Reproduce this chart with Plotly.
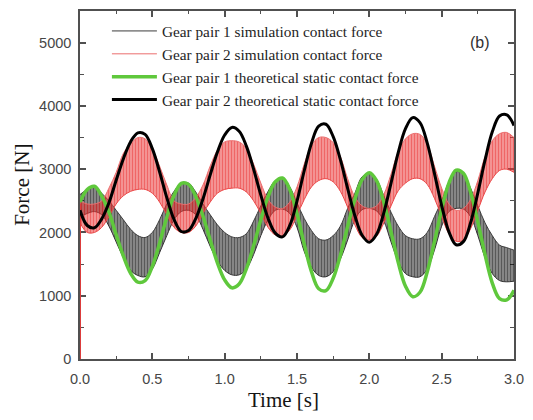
import plotly.graph_objects as go

# time grid (s) and theoretical static contact forces (N)
time_s = [round(i * 0.05, 2) for i in range(61)]

gear2_theory = [2350, 2110, 2075, 2215, 2470, 2825, 3165, 3435, 3575, 3550,
                3325, 2960, 2550, 2205, 2015, 2030, 2220, 2530, 2910, 3270,
                3540, 3660, 3600, 3365, 3000, 2590, 2225, 1990, 1930, 2110,
                2495, 2975, 3410, 3680, 3710, 3515, 3150, 2695, 2265, 1955,
                1845, 1970, 2310, 2780, 3265, 3640, 3815, 3735, 3415, 2935,
                2425, 2010, 1805, 1855, 2155, 2625, 3145, 3590, 3840, 3860,
                3690]

gear1_theory = [2480, 2680, 2730, 2575, 2320, 1965, 1625, 1355, 1215, 1240,
                1465, 1830, 2240, 2585, 2775, 2760, 2570, 2260, 1880, 1520,
                1250, 1125, 1185, 1425, 1790, 2200, 2565, 2800, 2860, 2680,
                2295, 1815, 1380, 1110, 1080, 1275, 1640, 2095, 2525, 2835,
                2945, 2820, 2480, 2010, 1525, 1150, 985, 1055, 1375, 1855,
                2365, 2780, 2985, 2935, 2635, 2165, 1645, 1200, 955, 935,
                1085]

# simulated contact force: envelope of the oscillating signal (N)
gear1_sim_low = [2250, 2300, 2330, 2280, 2100, 1850, 1600, 1400, 1320, 1300,
                 1420, 1680, 1950, 2200, 2330, 2350, 2280, 2050, 1780, 1550,
                 1400, 1330, 1330, 1420, 1650, 1950, 2200, 2350, 2370, 2300,
                 2080, 1700, 1450, 1320, 1300, 1380, 1580, 1880, 2200, 2360,
                 2380, 2340, 2180, 1850, 1540, 1350, 1300, 1300, 1420, 1720,
                 2100, 2330, 2380, 2370, 2250, 1950, 1600, 1350, 1240, 1220,
                 1230]
gear1_sim_high = [2600, 2680, 2730, 2620, 2500, 2350, 2200, 2050, 1950, 1920,
                  2000, 2200, 2450, 2650, 2780, 2780, 2640, 2450, 2280, 2120,
                  2000, 1930, 1920, 1980, 2180, 2420, 2650, 2820, 2860, 2720,
                  2470, 2220, 2030, 1900, 1880, 1950, 2100, 2380, 2620, 2880,
                  2930, 2840, 2580, 2320, 2100, 1950, 1900, 1900, 2000, 2250,
                  2500, 2800, 2960, 2920, 2700, 2420, 2150, 1950, 1800, 1760,
                  1720]

gear2_sim_low = [2150, 2000, 2000, 2080, 2250, 2450, 2580, 2650, 2680, 2680,
                 2620, 2480, 2280, 2080, 2000, 2000, 2100, 2300, 2480, 2620,
                 2680, 2700, 2700, 2640, 2500, 2300, 2080, 1960, 1950, 2040,
                 2270, 2520, 2720, 2820, 2850, 2800, 2650, 2400, 2120, 1920,
                 1880, 1940, 2150, 2420, 2660, 2780, 2850, 2850, 2760, 2540,
                 2250, 1980, 1860, 1880, 2060, 2350, 2640, 2850, 2980, 3000,
                 2950]
gear2_sim_high = [2500, 2450, 2450, 2500, 2700, 2950, 3250, 3400, 3500, 3480,
                  3320, 3050, 2750, 2500, 2450, 2450, 2550, 2750, 3050, 3300,
                  3430, 3450, 3430, 3330, 3080, 2780, 2520, 2400, 2380, 2480,
                  2720, 3080, 3380, 3500, 3500, 3420, 3200, 2850, 2560, 2420,
                  2380, 2420, 2600, 2920, 3280, 3480, 3560, 3550, 3400, 3050,
                  2700, 2450, 2350, 2380, 2520, 2820, 3200, 3450, 3560, 3580,
                  3500]

# start-up transient of the simulation (N)
startup_t = [0.0, 0.0]
startup_f = [0, 2450]

x_ticks = [0.0, 0.5, 1.0, 1.5, 2.0, 2.5, 3.0]
y_ticks = [0, 1000, 2000, 3000, 4000, 5000]

legend_names = ["Gear pair 1 simulation contact force",
                "Gear pair 2 simulation contact force",
                "Gear pair 1 theoretical static contact force",
                "Gear pair 2 theoretical static contact force"]

fig = go.Figure()

# gear pair 1 simulation band
fig.add_trace(go.Scatter(x=time_s, y=gear1_sim_high, mode="lines", name=legend_names[0],
                         line=dict(color="rgb(60,60,60)", width=1, shape="spline")))
fig.add_trace(go.Scatter(x=time_s, y=gear1_sim_low, mode="lines", showlegend=False,
                         line=dict(color="rgb(50,50,50)", width=1, shape="spline"),
                         fill="tonexty", fillcolor="rgba(0,0,0,0.35)",
                         fillpattern=dict(shape="|", size=3, solidity=0.65,
                                          fgcolor="rgba(5,5,5,1)",
                                          bgcolor="rgba(0,0,0,0.32)")))
# gear pair 2 simulation band
fig.add_trace(go.Scatter(x=time_s, y=gear2_sim_high, mode="lines", name=legend_names[1],
                         line=dict(color="rgb(235,110,110)", width=1, shape="spline")))
fig.add_trace(go.Scatter(x=time_s, y=gear2_sim_low, mode="lines", showlegend=False,
                         line=dict(color="rgb(235,70,70)", width=1, shape="spline"),
                         fill="tonexty", fillcolor="rgba(240,70,70,0.4)",
                         fillpattern=dict(shape="|", size=3, solidity=0.65,
                                          fgcolor="rgba(230,15,15,1)",
                                          bgcolor="rgba(240,90,90,0.4)")))
fig.add_trace(go.Scatter(x=startup_t, y=startup_f, mode="lines", showlegend=False,
                         line=dict(color="rgb(220,60,60)", width=2), cliponaxis=False))

fig.add_trace(go.Scatter(x=time_s, y=gear1_theory, mode="lines", name=legend_names[2],
                         line=dict(color="rgb(95,200,60)", width=3.5, shape="spline")))
fig.add_trace(go.Scatter(x=time_s, y=gear2_theory, mode="lines", name=legend_names[3],
                         line=dict(color="black", width=3, shape="spline")))

axis_common = dict(showline=True, linecolor="rgb(80,80,80)", linewidth=1.5, mirror="ticks",
                   ticks="inside", ticklen=6, tickwidth=1.5, tickcolor="rgb(80,80,80)",
                   showgrid=False, zeroline=False, layer="below traces",
                   tickfont=dict(family="Liberation Sans, Arial", size=14.5, color="rgb(70,70,70)"))

fig.update_xaxes(range=[0, 3.0], tickvals=x_ticks, ticktext=[f"{v:.1f}" for v in x_ticks],
                 minor=dict(ticks="inside", ticklen=3, tickwidth=1.2, dtick=0.25,
                            tickcolor="rgb(80,80,80)"),
                 ticklabelstandoff=6, **axis_common)
fig.update_yaxes(range=[0, 5500], tickvals=y_ticks, ticktext=[str(v) for v in y_ticks],
                 minor=dict(ticks="inside", ticklen=4, tickwidth=1.2, dtick=500,
                            tickcolor="rgb(80,80,80)"),
                 ticklabelstandoff=4, **axis_common)

fig.update_layout(
    width=533, height=420,
    margin=dict(l=80, r=19, t=9, b=61),
    plot_bgcolor="white", paper_bgcolor="white",
    legend=dict(x=0.062, y=0.99, xanchor="left", yanchor="top", traceorder="normal",
                itemwidth=45, bgcolor="rgba(0,0,0,0)", borderwidth=0,
                font=dict(family="Liberation Serif, Times New Roman", size=15.3, color="rgb(30,30,30)")),
    annotations=[
        dict(text="(b)", xref="paper", yref="paper", x=0.922, y=0.909,
             xanchor="center", yanchor="middle", showarrow=False,
             font=dict(family="Liberation Sans, Arial", size=16, color="rgb(50,50,50)")),
        dict(text="Time [s]", xref="paper", yref="paper", x=0.47, y=-0.117,
             xanchor="center", yanchor="middle", showarrow=False,
             font=dict(family="Liberation Serif, Times New Roman", size=21, color="rgb(20,20,20)")),
        dict(text="Force [N]", xref="paper", yref="paper", x=-0.134, y=0.5,
             xanchor="center", yanchor="middle", textangle=-90, showarrow=False,
             font=dict(family="Liberation Serif, Times New Roman", size=21, color="rgb(20,20,20)")),
    ],
)

fig.write_html("out.html")
